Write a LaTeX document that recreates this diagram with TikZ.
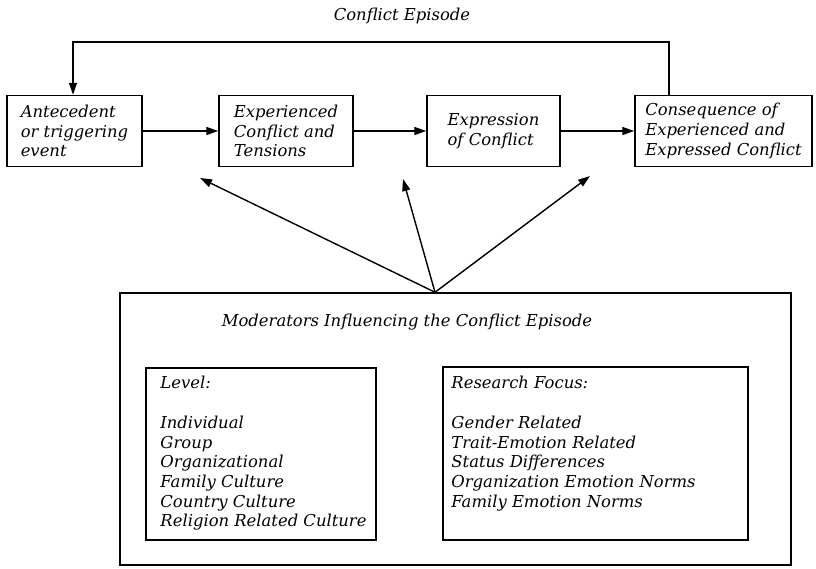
\documentclass[tikz,border=0pt]{standalone}
\usepackage{fontspec}
\setmainfont{DejaVu Serif}
\usetikzlibrary{arrows.meta}

\begin{document}
\begin{tikzpicture}[x=1pt,y=-1pt,
  every node/.style={font=\fontsize{16.4}{19.7}\selectfont\itshape},
  stagebox/.style={draw, line width=1.5pt, align=left, inner sep=0pt, minimum height=71pt},
  panel/.style={draw, line width=1.5pt, inner sep=0pt},
  listtext/.style={anchor=north west, align=left, inner sep=0pt},
  flow/.style={line width=1.4pt, -{Triangle[length=12pt,width=8pt]}},
]
\useasboundingbox (0,0) rectangle (816,568);

% stages of the conflict episode
\node[stagebox, minimum width=135pt] (ante) at (74.5,131) {Antecedent\\or triggering\\event};
\node[stagebox, minimum width=134pt] (exp)  at (286,131) {Experienced\\Conflict and\\Tensions};
\node[stagebox, minimum width=133pt] (expr) at (493.5,131) {Expression\\of Conflict};
\node[stagebox, minimum width=177pt] (cons) at (723.5,131) {Consequence of\\Experienced and\\Expressed Conflict};

\draw[flow] (ante) -- (exp);
\draw[flow] (exp) -- (expr);
\draw[flow] (expr) -- (cons);

% feedback loop
\node (title) at (402,16) {Conflict Episode};
\coordinate (fbR) at (669,42);
\coordinate (fbL) at (73,42);
\draw[flow] (fbR |- cons.north) -- (fbR) -- (fbL) -- (fbL |- ante.north);

% moderators
\node[panel, minimum width=671pt, minimum height=272pt] (mod) at (455.5,429) {};
\node (modtitle) at (407,322) {Moderators Influencing the Conflict Episode};

\node[panel, minimum width=230pt, minimum height=172pt] (lvl) at (261,454) {};
\node[listtext] (lvltxt) at ([shift={(15,9)}]lvl.north west)
  {Level:\\[19.7pt]Individual\\Group\\Organizational\\Family Culture\\Country Culture\\Religion Related Culture};

\node[panel, minimum width=305pt, minimum height=173pt] (res) at (595.5,453.5) {};
\node[listtext] (restxt) at ([shift={(9,10)}]res.north west)
  {Research Focus:\\[19.7pt]Gender Related\\Trait-Emotion Related\\Status Differences\\Organization Emotion Norms\\Family Emotion Norms};

% influence arrows
\coordinate (hubx) at (435,0);
\coordinate (hub) at (mod.north -| hubx);
\coordinate (t1) at (200,178);
\coordinate (t2) at (403,179);
\coordinate (t3) at (590,176);
\draw[flow] (hub) -- (t1);
\draw[flow] (hub) -- (t2);
\draw[flow] (hub) -- (t3);
\end{tikzpicture}
\end{document}
